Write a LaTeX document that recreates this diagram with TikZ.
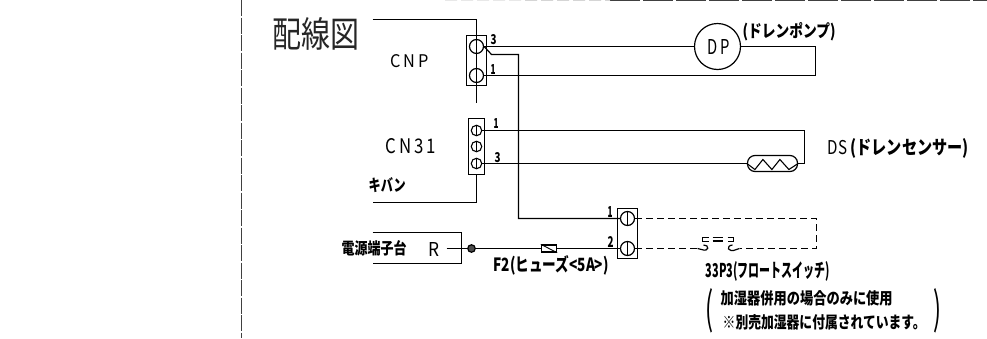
\documentclass[tikz,border=0pt]{standalone}
\usepackage{fontspec}
\usepackage{graphicx}
\setmainfont{Noto Sans CJK JP}
\newcommand{\fit}[3]{\resizebox{#1pt}{#2pt}{#3}}
\begin{document}
\begin{tikzpicture}[x=1pt,y=-1pt,
  wire/.style={draw=black,line width=1.2pt},
  dash wire/.style={draw=black,line width=1.2pt,dash pattern=on 7pt off 4pt},
  conn/.style={draw=black,line width=1.2pt,fill=white},
  term/.style={circle,draw=black,line width=1.2pt,inner sep=0pt,minimum size=14pt},
  termS/.style={circle,draw=black,line width=1.1pt,inner sep=0pt,minimum size=10.5pt},
  lbl/.style={inner sep=0pt,anchor=west,text=black}]
\useasboundingbox (0,0) rectangle (987,338);
\fill[white] (0,0) rectangle (987,338);
% page edges
\coordinate (edgeT) at (241,0); \coordinate (edgeB) at (241,338);
\draw[line width=0.9pt,dash pattern=on 16pt off 1.5pt,black!75] (edgeT) -- (edgeB);
\coordinate (topA) at (610,0.3); \coordinate (topB) at (987,0.3);
\draw[line width=0.9pt,dash pattern=on 30pt off 3pt,black!75] (topA) -- (topB);
\coordinate (topC) at (445,0.2);
\draw[line width=0.5pt,dash pattern=on 12pt off 4pt,black!25] (topC) -- (topA);
\begin{scope}[shift={(0.5,0.5)}]
% title
\node[lbl] (title) at (272,33) {\fit{87}{30}{\textcolor{black!85}{配線図}}};
% CNP connector
\node[conn,minimum width=20pt,minimum height=50pt,inner sep=0pt] (cnp) at (476,60) {};
\node[term] (c3) at (476,46) {};
\node[term] (c1) at (476,75) {};
\coordinate (ctop) at (372,19);
\coordinate (ctop2) at (476,19);
\coordinate (cbot) at (476,102);
\draw[wire] (ctop) -- (ctop2) -- (c1.center);
\draw[wire] (c1.center) -- (cbot);
% DP
\node[circle,draw=black,line width=1.2pt,minimum size=46pt,inner sep=0pt] (dp) at (717,46) {};
\node[inner sep=0] (dplbl) at (718,46) {\fit{22}{15}{D\,P}};
\coordinate (pr1) at (815,46); \coordinate (pr2) at (815,75);
\draw[wire] (c3.east) -- (dp.west);
\draw[wire] (dp.east) -- (pr1) -- (pr2) -- (c1.east);
% branch
\coordinate (b1) at (491,54); \coordinate (b2) at (518,54); \coordinate (b3) at (518,218);
\node[conn,minimum width=20pt,minimum height=50pt,inner sep=0pt] (tb) at (627,233) {};
\node[term] (t1) at (627,218) {};
\node[term] (t2) at (627,248) {};
\draw[wire] (t1.north) -- (t1.south);
\draw[wire] (t2.north) -- (t2.south);
\draw[wire] (c3.east) -- (b1) -- (b2) -- (b3) -- (t1.west);
% CN31
\node[conn,minimum width=16pt,minimum height=56pt,inner sep=0pt] (cn) at (476,146) {};
\node[termS] (s1) at (476,130) {};
\node[termS] (s2) at (476,146) {};
\node[termS] (s3) at (476,163) {};
\foreach \n in {s1,s2,s3} \draw[wire] (\n.north) -- (\n.south);
\coordinate (k1) at (476,202); \coordinate (k2) at (372,202);
\draw[wire] (cn.south) -- (k1) -- (k2);
% sensor
\node[draw=black,line width=1.2pt,rounded corners=7.5pt,minimum width=50pt,minimum height=16pt,inner sep=0pt] (ds) at (772,163) {};
\coordinate (d1) at (804,130); \coordinate (d2) at (804,163);
\draw[wire] (s1.east) -- (d1) -- (d2) -- (ds.east);
\draw[wire] (s3.east) -- (ds.west);
\draw[line width=1.1pt] (ds.west) -- ++(8,6) -- ++(8,-10) -- ++(9,10) -- ++(8,-10) -- ++(9,10) -- (ds.east);
% power block
\coordinate (p1) at (372,232); \coordinate (p2) at (461,232); \coordinate (p3) at (461,263); \coordinate (p4) at (372,263);
\draw[wire] (p1) -- (p2) -- (p3) -- (p4);
\coordinate (r0) at (446,248);
\node[circle,draw=black,fill=black!70,line width=1.2pt,minimum size=7.5pt,inner sep=0pt] (dot) at (471,248) {};
\node[draw=black,line width=1.2pt,minimum width=15pt,minimum height=7pt,inner sep=0pt] (fuse) at (548.5,248) {};
\draw[wire] (r0) -- (dot) -- (fuse.west);
\draw[wire] (fuse.east) -- (t2.west);
\draw[line width=0.9pt] (fuse.north west) -- (fuse.south east);
% dashed float switch loop
\coordinate (q1) at (816,218); \coordinate (q2) at (816,248);
\coordinate (swL) at (697,248); \coordinate (swR) at (739,248);
\draw[dash wire] (t1.east) -- (q1) -- (q2) -- (swR);
\draw[dash wire] (t2.east) -- (swL);
\draw[line width=1.2pt] (swL) -- (701,249) .. controls (709,252) and (709,244) .. (703,244.5);
\draw[line width=1.2pt] (swR) -- (736,249) .. controls (727,253) and (725,245) .. (732,244.5);
\draw[line width=1.2pt] (708,237) -- (702,237) -- (702,241) -- (708,241)
  (712,237) -- (722,237) (712,240.5) -- (722,240.5)
  (727,237) -- (733,237) -- (733,241) -- (727,241);
% labels
\node[lbl] (lcnp) at (390,61) {\fit{38}{13}{C\,N\,P}};
\node[lbl] (lcn) at (385,146) {\fit{50}{15}{C\,N\,3\,1}};
\node[lbl] (lkiban) at (368,185) {\fit{37}{14}{\textbf{キバン}}};
\node[lbl] (lpow) at (341,248) {\fit{65}{14}{\textbf{電源端子台}}};
\node[lbl] (lr) at (428,249) {\fit{11}{14}{R}};
\node[lbl] (n3a) at (490,39) {\fit{6}{10}{\textbf{3}}};
\node[lbl] (n1a) at (490,69) {\fit{5}{10}{\textbf{1}}};
\node[lbl] (n1b) at (493,123) {\fit{5}{10}{\textbf{1}}};
\node[lbl] (n3b) at (494,157) {\fit{6}{10}{\textbf{3}}};
\node[lbl] (n1c) at (607,211) {\fit{5}{11}{\textbf{1}}};
\node[lbl] (n2c) at (607,241) {\fit{6}{11}{\textbf{2}}};
\node[lbl] (ldp) at (742,31) {\fit{93}{15}{\textbf{(ドレンポンプ)}}};
\node[lbl] (lds) at (827,148) {\fit{141}{16}{DS \textbf{(ドレンセンサー)}}};
\node[lbl] (lf2) at (493,265) {\fit{115}{16}{\textbf{F2(ヒューズ<5A>)}}};
\node[lbl] (lsw) at (705,271) {\fit{124}{16}{\textbf{33P3(フロートスイッチ)}}};
\node[lbl] (note1) at (720,298) {\fit{172}{14}{\textbf{加湿器併用の場合のみに使用}}};
\node[lbl] (note2) at (722,322) {\fit{203}{14}{\textbf{※別売加湿器に付属されています。}}};
\node[lbl] (pl) at (705,310) {\fit{8}{36}{(}};
\node[lbl] (pr) at (933,310) {\fit{8}{36}{)}};
\end{scope}
\end{tikzpicture}
\end{document}
